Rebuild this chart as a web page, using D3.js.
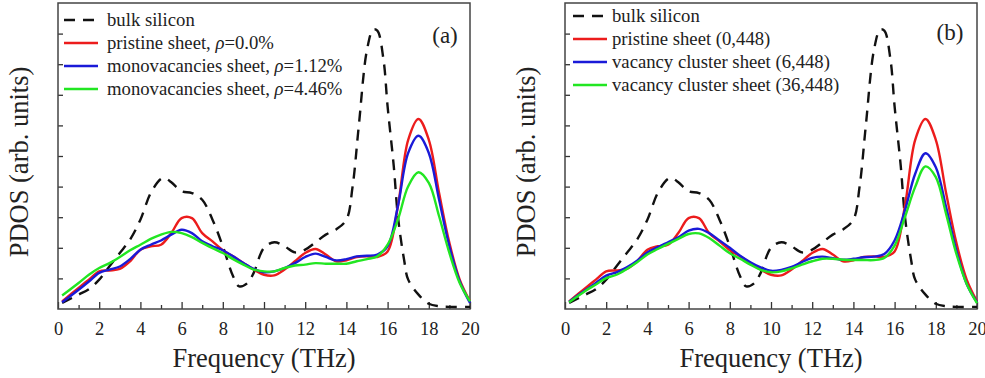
<!DOCTYPE html>
<html>
<head>
<meta charset="utf-8">
<script src="https://cdn.jsdelivr.net/npm/d3@7"></script>
<style>
  body { margin: 0; background: #fff; }
  svg { display: block; }
</style>
</head>
<body>
<svg id="chart" width="985" height="378"></svg>
<script>
'use strict';

var serif = "'Liberation Serif', 'DejaVu Serif', 'Times New Roman', serif"

// frequency grids (THz)
var freqBulk = [0.2, 1, 1.5, 2, 2.5, 3, 3.5, 4, 4.5, 5, 5.2, 5.5, 6, 6.5, 7, 7.5, 8, 8.5, 8.8, 9.2,
  9.5, 10, 10.5, 11, 11.5, 12, 12.5, 13, 13.5, 14, 14.3, 14.6, 15, 15.3, 15.5, 15.8, 16, 16.3, 16.5, 16.8,
  17, 17.5, 18, 18.5, 19, 20]
var freqSheet = [0.2, 1, 1.5, 2, 2.5, 3, 3.5, 4, 4.5, 5, 5.5, 6, 6.5, 7, 7.5, 8, 8.5, 9, 9.5, 10,
  10.5, 11, 11.5, 12, 12.5, 13, 13.5, 14, 14.5, 15, 15.5, 16, 16.5, 17, 17.5, 18, 18.5, 19, 19.5, 20]

// PDOS values (arb. units)
var bulkSilicon = [0.2, 0.47, 0.65, 0.96, 1.4, 1.83, 2.27, 2.92, 3.79, 4.25, 4.28, 4.14, 3.85, 3.79, 3.57, 2.92, 2.05, 1.07, 0.74, 0.85,
  1.18, 2.0, 2.18, 2.05, 1.85, 1.94, 2.18, 2.43, 2.6, 2.92, 4.0, 5.97, 8.47, 9.13, 9.1, 8.15, 6.62, 4.66, 3.03, 1.61,
  0.96, 0.47, 0.17, 0.09, 0.07, 0.07]
var pristine = [0.25, 0.69, 0.96, 1.23, 1.26, 1.31, 1.56, 1.94, 2.05, 2.1, 2.48, 2.97, 2.97, 2.48, 2.21, 1.92, 1.72, 1.5, 1.29, 1.12,
  1.1, 1.29, 1.56, 1.83, 1.96, 1.78, 1.56, 1.59, 1.7, 1.72, 1.7, 1.88, 3.36, 5.53, 6.21, 5.53, 3.79, 2.16, 0.96, 0.25]
var mono112 = [0.22, 0.63, 0.9, 1.18, 1.29, 1.39, 1.63, 1.94, 2.1, 2.24, 2.43, 2.59, 2.48, 2.21, 2.05, 1.92, 1.72, 1.5, 1.31, 1.2,
  1.23, 1.34, 1.5, 1.7, 1.81, 1.7, 1.59, 1.63, 1.72, 1.74, 1.78, 2.05, 3.36, 5.1, 5.66, 5.1, 3.57, 2.05, 0.9, 0.2]
var mono446 = [0.44, 0.85, 1.12, 1.34, 1.5, 1.7, 1.92, 2.1, 2.29, 2.43, 2.52, 2.48, 2.35, 2.16, 1.99, 1.83, 1.63, 1.45, 1.29, 1.23,
  1.23, 1.34, 1.42, 1.45, 1.5, 1.48, 1.48, 1.48, 1.56, 1.63, 1.72, 2.1, 2.92, 4.01, 4.47, 4.12, 3.03, 1.83, 0.85, 0.25]
var cluster6 = [0.24, 0.62, 0.85, 1.09, 1.2, 1.36, 1.58, 1.85, 2.02, 2.18, 2.34, 2.56, 2.62, 2.48, 2.24, 2.0, 1.74, 1.53, 1.36, 1.25,
  1.28, 1.38, 1.53, 1.67, 1.71, 1.66, 1.61, 1.64, 1.69, 1.71, 1.8, 2.24, 3.22, 4.42, 5.09, 4.63, 3.33, 1.91, 0.82, 0.22]
var cluster36 = [0.22, 0.6, 0.8, 1.01, 1.12, 1.31, 1.53, 1.78, 1.96, 2.13, 2.29, 2.45, 2.47, 2.32, 2.07, 1.82, 1.64, 1.45, 1.28, 1.2,
  1.23, 1.33, 1.45, 1.56, 1.64, 1.64, 1.61, 1.6, 1.6, 1.6, 1.67, 2.07, 3.0, 3.99, 4.66, 4.31, 3.11, 1.8, 0.82, 0.19]

// legend labels: [before rho, after rho] (rho drawn in italics)
var labelsA = [['bulk silicon'], ['pristine sheet, ', '=0.0%'], ['monovacancies sheet, ', '=1.12%'], ['monovacancies sheet, ', '=4.46%']]
var labelsB = [['bulk silicon'], ['pristine sheet (0,448)'], ['vacancy cluster sheet (6,448)'], ['vacancy cluster sheet (36,448)']]
var xTicks = [0, 2, 4, 6, 8, 10, 12, 14, 16, 18, 20]

var colors = ['#111', '#ec1c1c', '#1a1ad8', '#22e622']

var svg = d3.select('#chart')

function drawPanel(opts) {
  var left = opts.left, top = 3, w = 412, h = 306

  var xScale = d3.scaleLinear().domain([0, 20]).range([left, left + w])
  var yScale = d3.scaleLinear().domain([0, 10]).range([top + h, top])

  var g = svg.append('g')

  // minor x ticks (inward)
  var xMinor = d3.axisBottom(xScale).tickValues(d3.range(1, 20, 2)).tickSize(-4).tickFormat('')
  g.append('g').attr('transform', 'translate(0,' + (top + h) + ')').call(xMinor)
  var xAxis = d3.axisBottom(xScale).tickValues(xTicks).tickSize(-7).tickPadding(13)
  var xAxisG = g.append('g').attr('transform', 'translate(0,' + (top + h) + ')').call(xAxis)
  xAxisG.selectAll('text')
    .style('font-size', '18.5px')
    .style('font-family', serif)
    .attr('fill', '#222')

  var yAxis = d3.axisLeft(yScale).tickValues(d3.range(1, 10)).tickSize(-5).tickFormat('')
  g.append('g').attr('transform', 'translate(' + left + ',0)').call(yAxis)

  g.selectAll('.domain').remove()
  g.selectAll('.tick line').attr('stroke', '#333').attr('stroke-width', 1.3)

  g.append('rect')
    .attr('x', left).attr('y', top).attr('width', w).attr('height', h)
    .attr('fill', 'none').attr('stroke', '#444').attr('stroke-width', 1.5)

  var line = d3.line()
    .x(function(d) { return xScale(d[0]) })
    .y(function(d) { return yScale(d[1]) })
    .curve(d3.curveCatmullRom.alpha(0.5))

  opts.series.forEach(function(s, i) {
    var pts = s.freq.map(function(f, j) { return [f, s.values[j]] })
    g.append('path')
      .datum(pts)
      .attr('d', line)
      .attr('fill', 'none')
      .attr('stroke', colors[i])
      .attr('stroke-width', 2.4)
      .attr('stroke-dasharray', i === 0 ? '11,8' : null)
  })

  // legend
  var leg = g.append('g')
  opts.labels.forEach(function(lab, i) {
    var y = opts.legY + i * 23
    leg.append('line')
      .attr('x1', opts.legX).attr('x2', opts.legX + 34)
      .attr('y1', y).attr('y2', y)
      .attr('stroke', colors[i]).attr('stroke-width', 2.4)
      .attr('stroke-dasharray', i === 0 ? '11,8' : null)
    var t = leg.append('text')
      .attr('x', opts.legTextX).attr('y', y + 6)
      .style('font-size', '18.7px')
      .style('font-family', serif)
      .attr('fill', '#222')
    t.append('tspan').text(lab[0])
    if (lab.length > 1) {
      t.append('tspan').style('font-style', 'italic').text('\u03c1')
      t.append('tspan').text(lab[1])
    }
  })

  g.append('text')
    .attr('x', opts.tagX).attr('y', opts.tagY)
    .attr('text-anchor', 'middle')
    .style('font-size', '23px')
    .style('font-family', serif)
    .attr('fill', '#222')
    .text(opts.tag)

  g.append('text')
    .attr('x', left + w / 2).attr('y', 367)
    .attr('text-anchor', 'middle')
    .style('font-size', '26.5px')
    .style('font-family', serif)
    .attr('fill', '#222')
    .text('Frequency (THz)')

  g.append('text')
    .attr('transform', 'translate(' + (left - 30) + ',' + 162 + ') rotate(-90)')
    .attr('text-anchor', 'middle')
    .style('font-size', '26.5px')
    .style('font-family', serif)
    .attr('fill', '#222')
    .text('PDOS (arb. units)')
}

drawPanel({
  left: 58,
  series: [
    { freq: freqBulk, values: bulkSilicon },
    { freq: freqSheet, values: pristine },
    { freq: freqSheet, values: mono112 },
    { freq: freqSheet, values: mono446 }
  ],
  labels: labelsA,
  legX: 64, legTextX: 107, legY: 20,
  tag: '(a)', tagX: 445, tagY: 43
})

drawPanel({
  left: 565,
  series: [
    { freq: freqBulk, values: bulkSilicon },
    { freq: freqSheet, values: pristine },
    { freq: freqSheet, values: cluster6 },
    { freq: freqSheet, values: cluster36 }
  ],
  labels: labelsB,
  legX: 573, legTextX: 612, legY: 16,
  tag: '(b)', tagX: 950, tagY: 40
})
</script>
</body>
</html>
